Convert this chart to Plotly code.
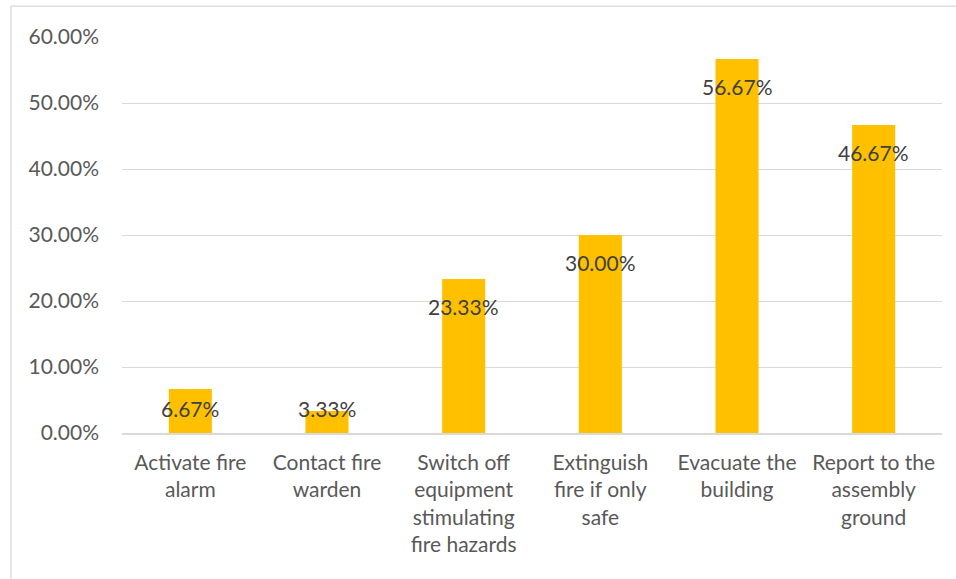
import plotly.graph_objects as go

# Response categories and share of respondents (%)
categories = [
    "Activate fire<br>alarm",
    "Contact fire<br>warden",
    "Switch off<br>equipment<br>stimulating<br>fire hazards",
    "Extinguish<br>fire if only<br>safe",
    "Evacuate the<br>building",
    "Report to the<br>assembly<br>ground",
]
shares = [6.67, 3.33, 23.33, 30.00, 56.67, 46.67]
y_ticks = [0, 10, 20, 30, 40, 50, 60]
y_tick_labels = [f"{t:.2f}%" for t in y_ticks]

BAR_COLOR = "#FFC000"
AXIS_TEXT = "#595959"
LABEL_TEXT = "#404040"
GRID = "#D9D9D9"
FONT = "Lato, Calibri, sans-serif"
FSIZE = 21

fig = go.Figure(
    go.Bar(
        x=categories,
        y=shares,
        marker=dict(color=BAR_COLOR, line=dict(width=0)),
        hoverinfo="x+y",
    )
)

# Value labels just inside the bar ends, kept above the axis for short bars
for cat, v in zip(categories, shares):
    fig.add_annotation(
        x=cat,
        y=max(v - 4.15, 3.64),
        text=f"{v:.2f}%",
        showarrow=False,
        xanchor="center",
        yanchor="middle",
        font=dict(family=FONT, size=FSIZE, color=LABEL_TEXT),
    )

# Light outer frame around the chart area
fig.add_shape(
    type="rect",
    xref="paper",
    yref="paper",
    x0=-0.1354,
    x1=1.05,
    y0=-0.40,
    y1=1.078,
    line=dict(color=GRID, width=1.3),
    fillcolor="rgba(0,0,0,0)",
    layer="below",
)

fig.update_layout(
    width=956,
    height=579,
    margin=dict(l=122, r=14, t=37, b=146),
    paper_bgcolor="white",
    plot_bgcolor="white",
    bargap=0.685,
    showlegend=False,
    font=dict(family=FONT, size=FSIZE, color=AXIS_TEXT),
    xaxis=dict(
        showgrid=False,
        showline=True,
        linecolor=GRID,
        linewidth=1.5,
        ticks="",
        tickfont=dict(family=FONT, size=FSIZE, color=AXIS_TEXT),
        ticklabelstandoff=10,
        fixedrange=True,
    ),
    yaxis=dict(
        range=[0, 60],
        tickvals=y_ticks,
        ticktext=y_tick_labels,
        showgrid=True,
        gridcolor=GRID,
        gridwidth=1.3,
        zeroline=False,
        showline=False,
        ticks="",
        tickfont=dict(family=FONT, size=FSIZE, color=AXIS_TEXT),
        ticklabelstandoff=22,
        fixedrange=True,
    ),
)

fig.write_html("out.html")
